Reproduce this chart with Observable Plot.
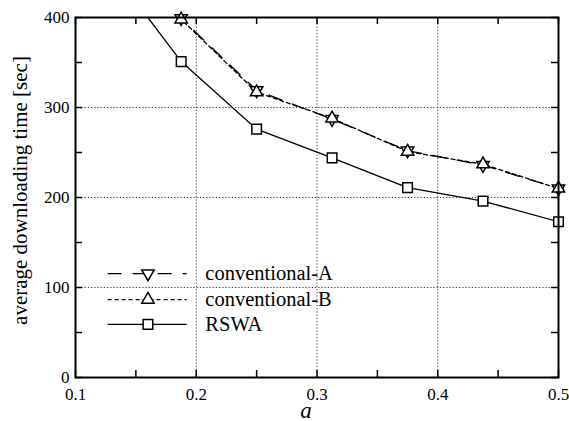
<!DOCTYPE html>
<html>
<head>
<meta charset="utf-8">
<script src="https://cdn.jsdelivr.net/npm/d3@7"></script>
<script src="https://cdn.jsdelivr.net/npm/@observablehq/plot@0.6"></script>
<style>
  body { margin: 0; background: #fff; }
  svg, svg text { font-family: "Liberation Serif", "Times New Roman", "DejaVu Serif", serif !important; }
</style>
</head>
<body>
<div id="chart"></div>
<script>
// ---- data ----
const aValues = [0.125, 0.1875, 0.25, 0.3125, 0.375, 0.4375, 0.5];
const conventionalA = [520, 399, 319, 287, 252, 236, 210];
const conventionalB = [515, 398, 317, 288, 251, 237, 210];
const rswa = [462, 351, 276, 244, 211, 196, 173];

const seriesNames = ["conventional-A", "conventional-B", "RSWA"];
const xTicks = [0.1, 0.2, 0.3, 0.4, 0.5];
const xMinor = [0.15, 0.25, 0.35, 0.45];
const yTicks = [0, 100, 200, 300, 400];
const yMinor = [50, 150, 250, 350];
const xGrid = [0.2, 0.3, 0.4];
const yGrid = [100, 200, 300];

const styles = {
  "conventional-A": {dash: "14,11", symbol: "triangle", rotate: 180, r: 4.6},
  "conventional-B": {dash: "4,3", symbol: "triangle", rotate: 0, r: 4.6},
  "RSWA": {dash: null, symbol: "square", rotate: 0, r: 5.4}
};

const rows = [];
[conventionalA, conventionalB, rswa].forEach((vals, k) => {
  vals.forEach((v, i) => rows.push({series: seriesNames[k], a: aValues[i], t: v}));
});
const visible = rows.filter(d => d.t <= 400 && d.a >= 0.1);

// legend placement in data units
const legX1 = 0.127, legX2 = 0.1925, legSym = 0.160, legText = 0.2075;
const legY = [115.5, 86.5, 59];
const legend = seriesNames.map((s, i) => ({series: s, y: legY[i]}));

const FONT = "Liberation Serif";
const tickLen = 7;
const marks = [
  Plot.ruleX(xGrid, {x: d => d, stroke: "#333", strokeWidth: 1, strokeDasharray: "1.2,2"}),
  Plot.ruleY(yGrid, {y: d => d, stroke: "#333", strokeWidth: 1, strokeDasharray: "1.2,2"}),
  // ticks inward on all four sides
  Plot.ruleX(xTicks.concat(xMinor), {x: d => d, y1: 0, y2: 0, insetTop: -tickLen, stroke: "#000", strokeWidth: 1.5}),
  Plot.ruleX(xTicks.concat(xMinor), {x: d => d, y1: 400, y2: 400, insetBottom: -tickLen, stroke: "#000", strokeWidth: 1.5}),
  Plot.ruleY(yTicks.concat(yMinor), {y: d => d, x1: 0.1, x2: 0.1, insetRight: -tickLen, stroke: "#000", strokeWidth: 1.5}),
  Plot.ruleY(yTicks.concat(yMinor), {y: d => d, x1: 0.5, x2: 0.5, insetLeft: -tickLen, stroke: "#000", strokeWidth: 1.5}),
];

seriesNames.forEach(s => {
  const st = styles[s];
  marks.push(Plot.line(rows.filter(d => d.series === s), {
    x: "a", y: "t", stroke: "#000", strokeWidth: 1.3,
    strokeDasharray: st.dash, clip: true
  }));
});
seriesNames.forEach(s => {
  const st = styles[s];
  marks.push(Plot.dot(visible.filter(d => d.series === s), {
    x: "a", y: "t", symbol: () => st.symbol, r: st.r, rotate: st.rotate,
    stroke: "#000", strokeWidth: 1.5, fill: "#fff"
  }));
});

// legend
seriesNames.forEach((s, i) => {
  const st = styles[s];
  const row = [legend[i]];
  marks.push(Plot.ruleY(row, {y: "y", x1: legX1, x2: legX2, stroke: "#000", strokeWidth: 1.3, strokeDasharray: st.dash}));
  marks.push(Plot.dot(row, {x: legSym, y: "y", symbol: () => st.symbol, r: st.r, rotate: st.rotate, stroke: "#000", strokeWidth: 1.5, fill: "#fff"}));
  marks.push(Plot.text(row, {x: legText, y: "y", text: "series", textAnchor: "start", fontSize: 20.5, fontFamily: FONT, fill: "#000"}));
});

marks.push(
  Plot.frame({stroke: "#000", strokeWidth: 2}),
  Plot.axisX(xTicks, {tickSize: 0, tickPadding: 10, fontSize: 17, fontFamily: FONT, label: null, tickFormat: d => d.toFixed(1), color: "#000"}),
  Plot.axisY(yTicks, {tickSize: 0, tickPadding: 6, fontSize: 17, fontFamily: FONT, label: null, tickFormat: d => String(d), color: "#000"}),
  Plot.text(["a"], {frameAnchor: "bottom", textAnchor: "middle", lineAnchor: "middle", dx: -11, dy: 33, text: d => d, fontSize: 23, fontStyle: "italic", fontFamily: FONT, fill: "#000"}),
  Plot.text(["average downloading time [sec]"], {frameAnchor: "left", textAnchor: "middle", lineAnchor: "middle", dx: -55, dy: -7, rotate: -90, text: d => d, fontSize: 21, fontFamily: FONT, fill: "#000"})
);

const chart = Plot.plot({
  width: 569,
  height: 421,
  marginLeft: 75,
  marginRight: 11,
  marginTop: 17,
  marginBottom: 44,
  style: {fontFamily: "'Liberation Serif', serif", background: "#fff"},
  x: {domain: [0.1, 0.5], axis: null, label: null},
  y: {domain: [0, 400], axis: null, label: null},
  marks
});
document.getElementById("chart").appendChild(chart);
</script>
</body>
</html>
